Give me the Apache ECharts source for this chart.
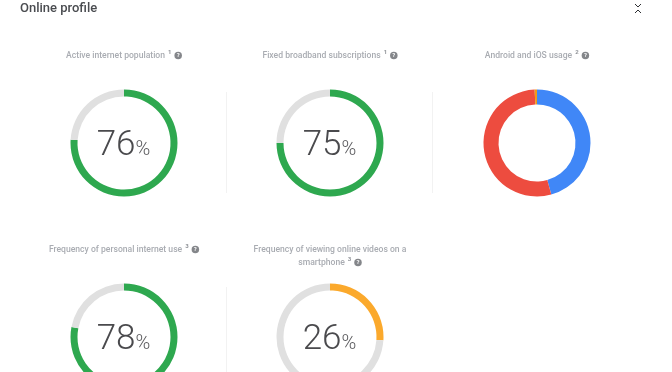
<!DOCTYPE html>
<html><head><meta charset="utf-8">
<style>html,body{margin:0;padding:0;background:#fff}#c{width:672px;height:372px}</style>
<script src="https://cdn.jsdelivr.net/npm/echarts@6/dist/echarts.min.js"></script>
</head><body><div id="c"></div>
<script>
const chartTitle = 'Online profile';
const gaugeNames = ['Active internet population','Fixed broadband subscriptions','Frequency of personal internet use','Frequency of viewing online videos on a\nsmartphone'];
const gaugeNotes = ['1','1','3','3'];
const gaugeValues = [76,75,78,26];
const gaugeColors = ['#2ea84f','#2ea84f','#2ea84f','#fba92c'];
const osTitle = 'Android and iOS usage';
const osNote = '2';
const osNames = ['iOS','Android','Other'];
const osValues = [45.7,53.6,0.7];
const osColors = ['#4087f7','#ed4c3f','#f09a1a'];

const gaugeCenters = [[124,143],[330,143],[124,337],[330,337]];
const titleTops = [[124,49],[330,49],[124,243],[330,243]];
const ff = 'Roboto, sans-serif';
const richTitle = {
  t:{fontFamily:ff,fontSize:8.6,fontWeight:500,color:'#a9acb2',lineHeight:13},
  s:{fontFamily:ff,fontSize:6,color:'#8f9297',verticalAlign:'top',padding:[0,3,2,3],lineHeight:11},
  q:{fontFamily:ff,fontSize:6,fontWeight:700,color:'#fff',backgroundColor:'#84868a',borderRadius:4,width:7.5,height:7.5,lineHeight:8,align:'center'}
};
function titleText(name,note){
  const lines = name.split('\n');
  return lines.map((l,i)=>'{t|'+l+'}'+(i===lines.length-1?'{s|'+note+'}{q|?}':'')).join('\n');
}
const titles = [{text:chartTitle,left:20,top:2,padding:0,textStyle:{fontFamily:ff,fontSize:13,fontWeight:500,color:'#4a4c50'}}];
gaugeNames.forEach((n,i)=>titles.push({
  text:titleText(n,gaugeNotes[i]),left:titleTops[i][0],top:titleTops[i][1],textAlign:'center',padding:0,
  textStyle:{rich:richTitle,lineHeight:13}
}));
titles.push({text:titleText(osTitle,osNote),left:537,top:49,textAlign:'center',padding:0,textStyle:{rich:richTitle,lineHeight:13}});

const series = gaugeValues.map((v,i)=>({
  type:'pie',silent:true,clockwise:true,startAngle:90,center:gaugeCenters[i],radius:[46.5,53.5],
  avoidLabelOverlap:false,
  label:{show:false},labelLine:{show:false},
  data:[
    {value:v,itemStyle:{color:gaugeColors[i]},
     label:{show:true,position:'center',offset:[-0.5,3],formatter:'{n|'+v+'}{p|%}',
       rich:{n:{fontFamily:ff,fontSize:35,fontWeight:300,color:'#4a4a4d'},
             p:{fontFamily:ff,fontSize:20,fontWeight:300,color:'#5a5a5d',padding:[7,0,0,0]}}}},
    {value:100-v,itemStyle:{color:'#e0e0e0'}}
  ]
}));
series.push({
  type:'pie',silent:true,startAngle:90,center:[537,143],radius:[38.5,53.5],
  label:{show:false},labelLine:{show:false},
  data:osValues.map((v,i)=>({name:osNames[i],value:v,itemStyle:{color:osColors[i]}}))
});
const rule = (x,y1,y2)=>({type:'line',shape:{x1:x,y1:y1,x2:x,y2:y2},style:{stroke:'#f2f2f2',lineWidth:1}});
const chev = (pts)=>({type:'polyline',shape:{points:pts},style:{stroke:'#2f3033',lineWidth:1,fill:null}});
const chart = echarts.init(document.getElementById('c'),null,{renderer:'canvas'});
chart.setOption({
  animation:false,backgroundColor:'#fff',title:titles,series,
  graphic:[rule(226.5,92,193),rule(432.5,92,193),rule(226.5,287,372),
    chev([[635,4],[638,7],[641,4]]),chev([[635,13],[638,10],[641,13]])]
});
</script></body></html>
